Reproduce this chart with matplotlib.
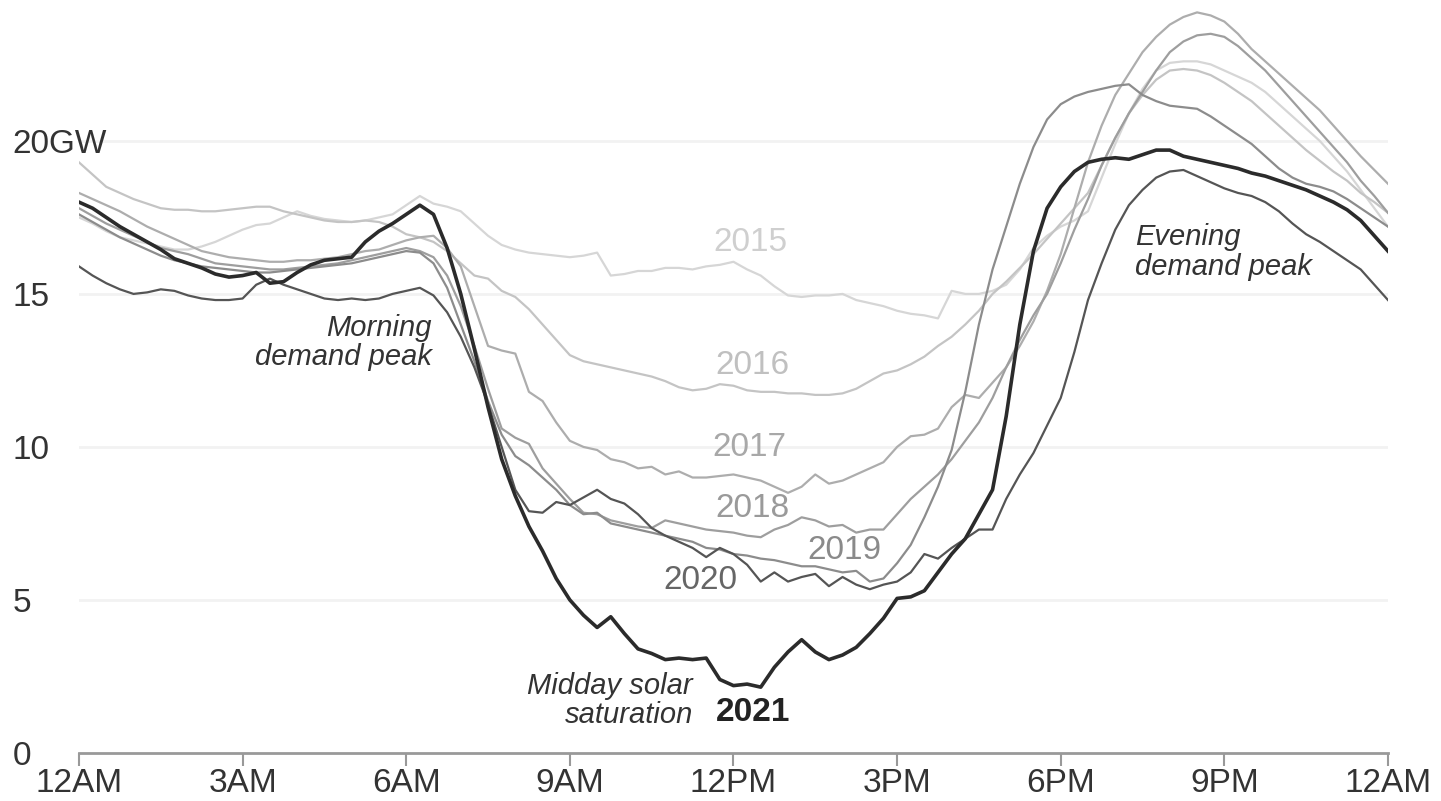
import numpy as np
import matplotlib
matplotlib.use("Agg")
import matplotlib.pyplot as plt

# quarter-hour samples, 12AM .. 12AM
hours = [i * 0.25 for i in range(97)]

y2015 = [17.5, 17.3, 17.05, 16.85, 16.75, 16.65, 16.55, 16.45,
         16.45, 16.55, 16.7, 16.9, 17.1, 17.25, 17.3, 17.5,
         17.7, 17.55, 17.45, 17.4, 17.35, 17.4, 17.5, 17.6,
         17.9, 18.2, 17.95, 17.85, 17.7, 17.3, 16.9, 16.6,
         16.45, 16.35, 16.3, 16.25, 16.2, 16.25, 16.35, 15.6,
         15.65, 15.75, 15.75, 15.85, 15.85, 15.8, 15.9, 15.95,
         16.05, 15.8, 15.6, 15.25, 14.95, 14.9, 14.95, 14.95,
         15.0, 14.8, 14.7, 14.6, 14.45, 14.35, 14.3, 14.2,
         15.1, 15.0, 15.0, 15.1, 15.3, 15.8, 16.5, 16.9,
         17.2, 17.4, 17.7, 18.8, 19.9, 20.9, 21.7, 22.3,
         22.55, 22.6, 22.6, 22.5, 22.3, 22.1, 21.9, 21.6,
         21.2, 20.8, 20.4, 20.0, 19.5, 19.0, 18.4, 17.8,
         17.2]
y2016 = [19.3, 18.9, 18.5, 18.3, 18.1, 17.95, 17.8, 17.75,
         17.75, 17.7, 17.7, 17.75, 17.8, 17.85, 17.85, 17.7,
         17.6, 17.5, 17.4, 17.35, 17.35, 17.4, 17.35, 17.2,
         16.95, 16.85, 16.7, 16.4, 16.0, 15.6, 15.5, 15.1,
         14.9, 14.5, 14.0, 13.5, 13.0, 12.8, 12.7, 12.6,
         12.5, 12.4, 12.3, 12.15, 11.95, 11.85, 11.9, 12.05,
         12.0, 11.85, 11.8, 11.8, 11.75, 11.75, 11.7, 11.7,
         11.75, 11.9, 12.15, 12.4, 12.5, 12.7, 12.95, 13.3,
         13.6, 14.0, 14.45, 15.0, 15.4, 15.85, 16.3, 16.8,
         17.3, 17.8, 18.3, 19.2, 20.1, 20.9, 21.5, 22.0,
         22.3, 22.35, 22.3, 22.15, 21.9, 21.6, 21.3, 20.9,
         20.5, 20.1, 19.7, 19.35, 19.0, 18.7, 18.3, 18.0,
         17.65]
y2017 = [18.3, 18.1, 17.9, 17.7, 17.45, 17.2, 17.0, 16.8,
         16.6, 16.4, 16.3, 16.2, 16.15, 16.1, 16.05, 16.05,
         16.1, 16.1, 16.15, 16.2, 16.3, 16.4, 16.45, 16.6,
         16.75, 16.85, 16.9, 16.5, 15.9, 14.6, 13.3, 13.15,
         13.05, 11.8, 11.5, 10.8, 10.2, 10.0, 9.9, 9.6,
         9.5, 9.3, 9.35, 9.1, 9.2, 9.0, 9.0, 9.05,
         9.1, 9.0, 8.9, 8.7, 8.5, 8.7, 9.1, 8.8,
         8.9, 9.1, 9.3, 9.5, 10.0, 10.35, 10.4, 10.6,
         11.3, 11.7, 11.6, 12.1, 12.6, 13.3, 14.1, 15.1,
         16.3, 17.8, 19.3, 20.5, 21.5, 22.2, 22.9, 23.4,
         23.8, 24.05, 24.2, 24.1, 23.9, 23.5, 23.0, 22.6,
         22.2, 21.8, 21.4, 21.0, 20.5, 20.0, 19.5, 19.05,
         18.6]
y2018 = [17.8, 17.55, 17.3, 17.1, 16.9, 16.7, 16.5, 16.4,
         16.3, 16.15, 16.0, 15.95, 15.9, 15.85, 15.8, 15.8,
         15.85, 15.9, 15.95, 16.0, 16.1, 16.2, 16.3, 16.4,
         16.5, 16.4, 16.2, 15.6, 14.6, 13.3, 11.9, 10.6,
         10.3, 10.1, 9.3, 8.8, 8.3, 7.85, 7.8, 7.6,
         7.5, 7.4, 7.35, 7.6, 7.5, 7.4, 7.3, 7.25,
         7.2, 7.1, 7.05, 7.3, 7.45, 7.7, 7.6, 7.4,
         7.45, 7.2, 7.3, 7.3, 7.8, 8.3, 8.7, 9.1,
         9.6, 10.2, 10.8, 11.6, 12.6, 13.5, 14.3, 15.0,
         16.0, 17.1, 18.1, 19.2, 20.1, 20.9, 21.6, 22.3,
         22.9, 23.25, 23.45, 23.5, 23.4, 23.1, 22.7, 22.3,
         21.8, 21.3, 20.8, 20.3, 19.8, 19.3, 18.7, 18.2,
         17.65]
y2019 = [17.6, 17.35, 17.1, 16.85, 16.65, 16.45, 16.25, 16.1,
         16.0, 15.9, 15.85, 15.8, 15.75, 15.7, 15.7, 15.75,
         15.8, 15.85, 15.9, 15.95, 16.0, 16.1, 16.2, 16.3,
         16.4, 16.35, 16.0, 15.2, 14.0, 12.8, 11.5, 10.4,
         9.7, 9.4, 9.0, 8.6, 8.1, 7.8, 7.85, 7.5,
         7.4, 7.3, 7.2, 7.1, 7.0, 6.9, 6.7, 6.65,
         6.5, 6.45, 6.35, 6.3, 6.2, 6.1, 6.1, 6.0,
         5.9, 5.95, 5.6, 5.7, 6.2, 6.8, 7.7, 8.7,
         9.9, 11.8, 14.0, 15.8, 17.2, 18.6, 19.8, 20.7,
         21.2, 21.45, 21.6, 21.7, 21.8, 21.85, 21.5, 21.3,
         21.15, 21.1, 21.05, 20.8, 20.5, 20.2, 19.9, 19.5,
         19.1, 18.8, 18.6, 18.5, 18.35, 18.1, 17.8, 17.5,
         17.2]
y2020 = [15.9, 15.6, 15.35, 15.15, 15.0, 15.05, 15.15, 15.1,
         14.95, 14.85, 14.8, 14.8, 14.85, 15.3, 15.5, 15.3,
         15.15, 15.0, 14.85, 14.8, 14.85, 14.8, 14.85, 15.0,
         15.1, 15.2, 14.95, 14.4, 13.6, 12.6, 11.4, 10.0,
         8.6, 7.9, 7.85, 8.2, 8.1, 8.35, 8.6, 8.3,
         8.15, 7.8, 7.35, 7.1, 6.9, 6.7, 6.4, 6.7,
         6.5, 6.15, 5.6, 5.9, 5.6, 5.75, 5.85, 5.45,
         5.75, 5.5, 5.35, 5.5, 5.6, 5.9, 6.5, 6.35,
         6.7, 7.0, 7.3, 7.3, 8.3, 9.1, 9.8, 10.7,
         11.6, 13.1, 14.8, 16.0, 17.1, 17.9, 18.4, 18.8,
         19.0, 19.05, 18.85, 18.65, 18.45, 18.3, 18.2, 18.0,
         17.7, 17.3, 16.95, 16.7, 16.4, 16.1, 15.8, 15.3,
         14.8]
y2021 = [18.0, 17.8, 17.5, 17.2, 16.95, 16.7, 16.45, 16.15,
         16.0, 15.85, 15.65, 15.55, 15.6, 15.7, 15.35, 15.4,
         15.7, 15.95, 16.1, 16.15, 16.2, 16.7, 17.05, 17.3,
         17.6, 17.9, 17.6, 16.5, 15.0, 13.2, 11.3, 9.6,
         8.4, 7.4, 6.6, 5.7, 5.0, 4.5, 4.1, 4.45,
         3.9, 3.4, 3.25, 3.05, 3.1, 3.05, 3.1, 2.4,
         2.2, 2.25, 2.15, 2.8, 3.3, 3.7, 3.3, 3.05,
         3.2, 3.45, 3.9, 4.4, 5.05, 5.1, 5.3, 5.9,
         6.5, 7.0, 7.8, 8.6, 11.0, 14.0, 16.4, 17.8,
         18.5, 19.0, 19.3, 19.4, 19.45, 19.4, 19.55, 19.7,
         19.7, 19.5, 19.4, 19.3, 19.2, 19.1, 18.95, 18.85,
         18.7, 18.55, 18.4, 18.2, 18.0, 17.75, 17.4, 16.9,
         16.4]

series = [
    ("2015", y2015, "#d6d6d6", 1.6),
    ("2016", y2016, "#c4c4c4", 1.6),
    ("2017", y2017, "#adadad", 1.6),
    ("2018", y2018, "#9e9e9e", 1.6),
    ("2019", y2019, "#8c8c8c", 1.6),
    ("2020", y2020, "#555555", 1.6),
    ("2021", y2021, "#2b2b2b", 2.6),
]

x_ticks = [0, 3, 6, 9, 12, 15, 18, 21, 24]
x_labels = ["12AM", "3AM", "6AM", "9AM", "12PM", "3PM", "6PM", "9PM", "12AM"]
y_ticks = [0, 5, 10, 15, 20]
y_labels = ["0", "5", "10", "15", "20GW"]

plt.rcParams["font.family"] = ["Liberation Sans", "DejaVu Sans"]

fig = plt.figure(figsize=(14.41, 8.01), dpi=100)
ax = fig.add_axes([0.0548, 0.06, 0.9084, 0.936])

for name, vals, col, lw in series:
    ax.plot(hours, vals, color=col, lw=lw, solid_joinstyle="round", zorder=3)

ax.set_xlim(0, 24)
ax.set_ylim(0, 24.5)

for v in y_ticks[1:]:
    ax.axhline(v, color="#f2f2f2", lw=2, zorder=1)

ax.set_xticks(x_ticks)
ax.set_xticklabels(x_labels, fontsize=24, color="#333333")
ax.set_yticks(y_ticks)
ax.set_yticklabels(y_labels, fontsize=24, color="#333333", ha="left")
ax.tick_params(axis="y", length=0, pad=48)
ax.tick_params(axis="x", length=9, width=1.5, color="#999999", pad=2)

for s in ["top", "right", "left"]:
    ax.spines[s].set_visible(False)
ax.spines["bottom"].set_color("#999999")
ax.spines["bottom"].set_linewidth(2)

lab_style = dict(fontsize=24, ha="center", va="center", zorder=5)
ax.text(12.32, 16.67, "2015", color="#cfcfcf", **lab_style)
ax.text(12.34, 12.65, "2016", color="#c0c0c0", **lab_style)
ax.text(12.30, 9.97, "2017", color="#a8a8a8", **lab_style)
ax.text(12.34, 8.0, "2018", color="#9a9a9a", **lab_style)
ax.text(14.04, 6.63, "2019", color="#8a8a8a", **lab_style)
ax.text(11.39, 5.65, "2020", color="#666666", **lab_style)
ax.text(12.36, 1.31, "2021", color="#222222", fontweight="bold", **lab_style)

ann = dict(fontsize=21, style="italic", color="#333333", va="center", linespacing=1.05, zorder=5)
ax.text(6.47, 13.4, "Morning\ndemand peak", ha="right", **ann)
ax.text(19.36, 16.37, "Evening\ndemand peak", ha="left", **ann)
ax.text(11.26, 1.7, "Midday solar\nsaturation", ha="right", **ann)

fig.savefig("out.png", dpi=100, facecolor="white")
